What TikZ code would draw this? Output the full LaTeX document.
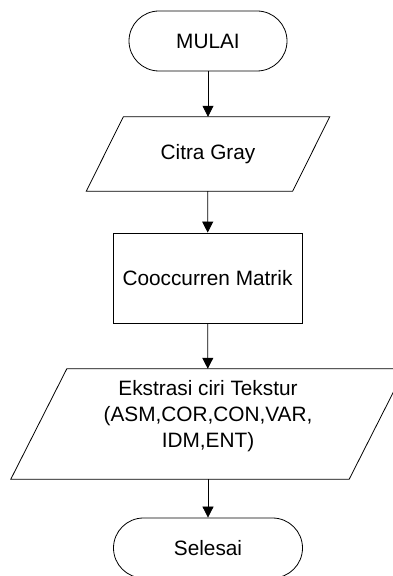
\documentclass[tikz,border=0pt]{standalone}
\usepackage{fontspec}
\setmainfont{Liberation Sans}
\usetikzlibrary{arrows.meta}
\newcommand\drawpara[2]{\draw[line] ([xshift=#2]#1.north west) -- ([xshift=#2]#1.north east) -- ([xshift=-#2]#1.south east) -- ([xshift=-#2]#1.south west) -- cycle;}
\begin{document}
\begin{tikzpicture}[x=1pt,y=1pt,
  line/.style={draw=black,line width=0.8pt},
  txt/.style={font=\fontsize{20.8}{26}\selectfont,align=center},
  term/.style={txt,line,rounded corners=30pt,minimum width=#1,minimum height=60pt,inner sep=0pt},
  proc/.style={txt,line,minimum width=189pt,minimum height=90pt,inner sep=0pt},
  io/.style={txt,inner sep=0pt},
  flow/.style={line,-{Triangle[length=11pt,width=11pt]}}]
\useasboundingbox (0,0) rectangle (393,576);
\clip (0,0) rectangle (393,576);
\node[term=158pt] (start) at (208,535) {MULAI};
\node[io,minimum width=206pt,minimum height=74pt] (io1) at (208,422) {Citra Gray};
\drawpara{io1}{18.5pt}
\node[proc] (proc) at (207.5,298) {Cooccurren Matrik};
\node[io,minimum width=338pt,minimum height=110pt] (io2) at (208,152) {};
\drawpara{io2}{28pt}
\node[txt] (io2t) at (208,160) {Ekstrasi ciri Tekstur\\(ASM,COR,CON,VAR,\\IDM,ENT)};
\node[term=189pt] (end) at (208,28) {Selesai};
\draw[flow] (start) -- (io1);
\draw[flow] (io1) -- (proc);
\draw[flow] (proc) -- (io2);
\draw[flow] (io2) -- (end);
\end{tikzpicture}
\end{document}
